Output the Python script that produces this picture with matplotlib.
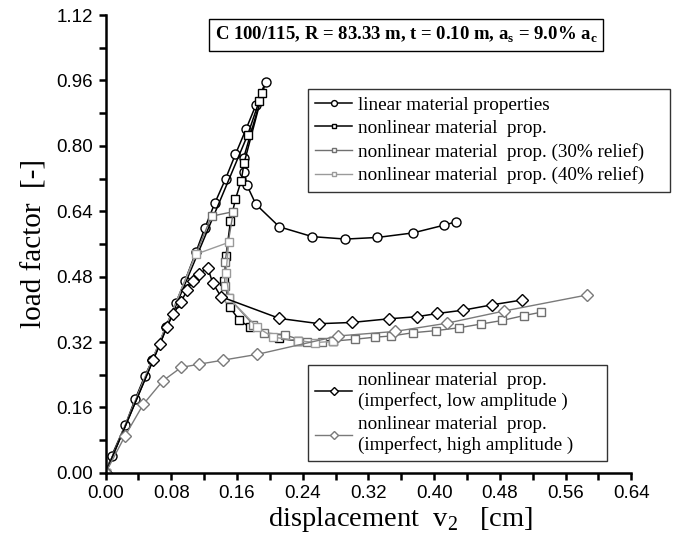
import matplotlib
matplotlib.use("Agg")
import matplotlib.pyplot as plt

plt.rcParams['mathtext.fontset'] = 'custom'
plt.rcParams['mathtext.rm'] = 'Liberation Serif'
plt.rcParams['mathtext.bf'] = 'Liberation Serif:bold'

# linear material properties (circles)
lin_x = [0.0, 0.0075, 0.024, 0.036, 0.048, 0.057, 0.0736, 0.0858, 0.0967, 0.110, 0.121, 0.133,
         0.146, 0.158, 0.171, 0.183, 0.195, 0.168, 0.169, 0.172, 0.183, 0.2115, 0.2516, 0.292,
         0.331, 0.374, 0.412, 0.426]
lin_y = [0.0, 0.042, 0.117, 0.180, 0.238, 0.276, 0.358, 0.416, 0.470, 0.540, 0.600, 0.660,
         0.719, 0.779, 0.841, 0.900, 0.957, 0.770, 0.737, 0.704, 0.657, 0.602, 0.578, 0.572,
         0.576, 0.587, 0.606, 0.614]

# nonlinear material prop. (black squares)
nl_x = [0.0, 0.173, 0.187, 0.191, 0.1685, 0.165, 0.158, 0.152, 0.1466, 0.1446, 0.1515, 0.1624,
        0.176, 0.2115, 0.2346, 0.277]
nl_y = [0.0, 0.827, 0.910, 0.929, 0.757, 0.714, 0.669, 0.615, 0.531, 0.470, 0.405, 0.374,
        0.356, 0.329, 0.323, 0.323]

# 30% relief
r30_x = [0.0, 0.129, 0.1555, 0.1454, 0.145, 0.1506, 0.180, 0.193, 0.218, 0.2455, 0.264, 0.3036,
         0.328, 0.348, 0.3745, 0.402, 0.430, 0.4565, 0.483, 0.5096, 0.530]
r30_y = [0.0, 0.628, 0.639, 0.517, 0.458, 0.427, 0.362, 0.343, 0.3375, 0.321, 0.320, 0.327,
         0.332, 0.335, 0.343, 0.348, 0.355, 0.364, 0.373, 0.385, 0.393]

# 40% relief
r40_x = [0.0, 0.110, 0.150, 0.1466, 0.1506, 0.1847, 0.204, 0.2346, 0.255, 0.277]
r40_y = [0.0, 0.535, 0.564, 0.490, 0.427, 0.356, 0.332, 0.3236, 0.3187, 0.322]

# imperfect, low amplitude
low_x = [0.0, 0.058, 0.0663, 0.0745, 0.0825, 0.092, 0.0995, 0.106, 0.1138, 0.1243, 0.1304, 0.1405,
         0.2115, 0.260, 0.2995, 0.345, 0.3786, 0.404, 0.435, 0.470, 0.507]
low_y = [0.0, 0.276, 0.3155, 0.357, 0.389, 0.419, 0.448, 0.469, 0.486, 0.502, 0.465, 0.431,
         0.378, 0.365, 0.368, 0.377, 0.382, 0.390, 0.398, 0.411, 0.423]

# imperfect, high amplitude
high_x = [0.0, 0.0237, 0.046, 0.0696, 0.092, 0.114, 0.1434, 0.1847, 0.283, 0.352, 0.415, 0.485, 0.5855]
high_y = [0.0, 0.0905, 0.168, 0.225, 0.258, 0.266, 0.276, 0.290, 0.335, 0.346, 0.366, 0.396, 0.435]

fig = plt.figure(figsize=(6.9, 5.38), dpi=100)
ax = fig.add_axes([0.153, 0.121, 0.762, 0.851])

h1, = ax.plot(lin_x, lin_y, '-o', color='black', lw=1.1, markeredgecolor='black',
              markerfacecolor='white', markersize=6.5, markeredgewidth=1.0)
h2, = ax.plot(nl_x, nl_y, '-s', color='black', lw=1.1, markeredgecolor='black',
              markerfacecolor='white', markersize=5.5, markeredgewidth=1.0)
h3, = ax.plot(r30_x, r30_y, '-s', color='#707070', lw=1.0, markeredgecolor='#707070',
              markerfacecolor='white', markersize=5.5, markeredgewidth=1.0)
h4, = ax.plot(r40_x, r40_y, '-s', color='#9a9a9a', lw=1.0, markeredgecolor='#9a9a9a',
              markerfacecolor='white', markersize=5.5, markeredgewidth=1.0)
h5, = ax.plot(low_x, low_y, '-D', color='black', lw=1.1, markeredgecolor='black',
              markerfacecolor='white', markersize=6.0, markeredgewidth=1.0)
h6, = ax.plot(high_x, high_y, '-D', color='#7a7a7a', lw=1.0, markeredgecolor='#7a7a7a',
              markerfacecolor='white', markersize=6.0, markeredgewidth=1.0)

ax.set_xlim(0, 0.64)
ax.set_ylim(0, 1.12)
ax.set_xticks([0.0, 0.08, 0.16, 0.24, 0.32, 0.40, 0.48, 0.56, 0.64])
ax.set_yticks([0.0, 0.16, 0.32, 0.48, 0.64, 0.80, 0.96, 1.12])
ax.set_xticks([0.04, 0.12, 0.20, 0.28, 0.36, 0.44, 0.52, 0.60], minor=True)
ax.set_yticks([0.08, 0.24, 0.40, 0.56, 0.72, 0.88, 1.04], minor=True)
ax.xaxis.set_major_formatter(matplotlib.ticker.FormatStrFormatter('%.2f'))
ax.yaxis.set_major_formatter(matplotlib.ticker.FormatStrFormatter('%.2f'))
ax.tick_params(which='both', direction='out', length=5, width=1.8, labelsize=13.5,
               labelfontfamily='Liberation Sans')
ax.tick_params(axis='x', pad=4)
ax.tick_params(axis='y', pad=4)
ax.spines['top'].set_visible(False)
ax.spines['right'].set_visible(False)
ax.spines['left'].set_linewidth(1.8)
ax.spines['bottom'].set_linewidth(1.8)

ax.set_xlabel(r'displacement  v$_\mathrm{2}$   [cm]', family='Liberation Serif', fontsize=20.5)
ax.xaxis.set_label_coords(0.56, -0.07)
ax.set_ylabel('load factor  [-]', family='Liberation Serif', fontsize=21, labelpad=6)

fig.text(0.589, 0.935, r'C 100/115, R = 83.33 m, t = 0.10 m, a$_\mathbf{s}$ = 9.0% a$_\mathbf{c}$',
         family='Liberation Serif', weight='bold', fontsize=13.5, ha='center', va='center',
         bbox=dict(boxstyle='square,pad=0.3', facecolor='white', edgecolor='black', linewidth=1.0))

lp = dict(prop={'family': 'Liberation Serif', 'size': 13.8}, frameon=True, fancybox=False,
          edgecolor='black', handlelength=1.9, handletextpad=0.3, borderpad=0.4,
          labelspacing=0.3, markerscale=0.65, borderaxespad=0, mode='expand')
leg1 = fig.legend([h1, h2, h3, h4],
                  ['linear material properties', 'nonlinear material  prop.',
                   'nonlinear material  prop. (30% relief)', 'nonlinear material  prop. (40% relief)'],
                  loc='upper left', bbox_to_anchor=(0.446, 0.641, 0.525, 0.194), **lp)
leg1.get_frame().set_linewidth(1.0)
leg2 = fig.legend([h5, h6],
                  ['nonlinear material  prop.\n(imperfect, low amplitude )',
                   'nonlinear material  prop.\n(imperfect, high amplitude )'],
                  loc='upper left', bbox_to_anchor=(0.446, 0.13, 0.434, 0.192), **lp)
leg2.get_frame().set_linewidth(1.0)

fig.savefig('out.png', dpi=100)
